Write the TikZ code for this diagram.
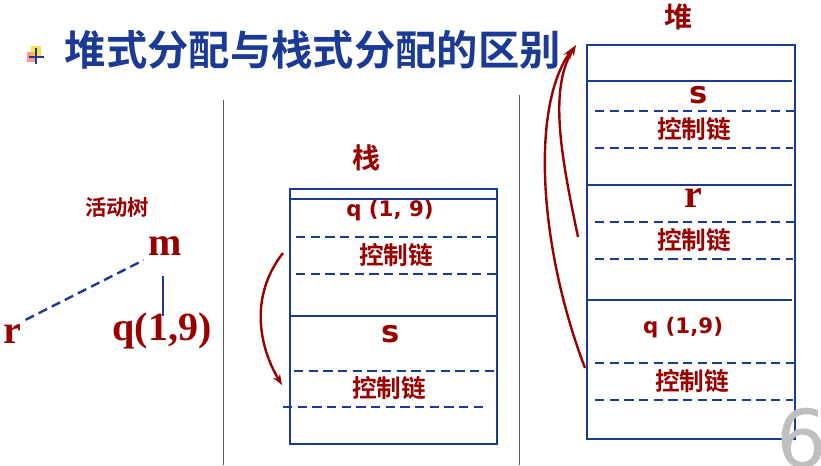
\documentclass[tikz,border=0pt]{standalone}
\usepackage{fontspec}
\usetikzlibrary{arrows.meta}
\setmainfont{Liberation Serif}
\setsansfont{DejaVu Sans}
\newfontfamily\cjk{Noto Sans CJK SC}[BoldFont={* Bold}]
\definecolor{darkred}{HTML}{990000}
\definecolor{navy}{HTML}{1A3A96}
\tikzset{
  frameline/.style={navy, line width=2pt},
  dashline/.style={navy, line width=1.8pt, dash pattern=on 7pt off 4pt},
  cjklabel/.style={darkred, font=\cjk\bfseries\fontsize{18.5}{18.5}\selectfont},
  latlabel/.style={darkred, font=\bfseries\fontsize{30}{30}\selectfont},
  callarrow/.style={darkred, line width=1.8pt, -{Stealth[length=8pt]}},
}
\begin{document}
\begin{tikzpicture}[x=0.75pt,y=-0.75pt]
  \useasboundingbox (0,0) rectangle (821,465);

  % title
  \fill[red!60, opacity=0.7] (27,52) rectangle (37,62);
  \fill[yellow!70!orange, opacity=0.7] (31,46) rectangle (41,56);
  \draw[navy, line width=1pt] (29,57) -- (44,57) (36,48) -- (36,64);
  \node[navy, anchor=west, font=\cjk\bfseries\fontsize{31}{31}\selectfont] (title) at (60,50) {堆式分配与栈式分配的区别};

  % dividers
  \draw[gray!70!black] (223,100) -- (223,465);
  \draw[gray!70!black] (519,95) -- (519,465);

  % activation tree
  \node[cjklabel, font=\cjk\bfseries\fontsize{16}{16}\selectfont] (treelabel) at (117,207) {活动树};
  \node[latlabel] (m) at (165,246) {m};
  \node[latlabel] (r) at (12,334) {r};
  \node[latlabel] (q) at (162,331) {q(1,9)};
  \coordinate (mbot) at (163,276);
  \coordinate (qtop) at (163,316);
  \draw[dashline] (r.north east) -- (m.south west);
  \draw[navy, line width=1.8pt] (mbot) -- (qtop);

  % stack
  \node[cjklabel, font=\cjk\bfseries\fontsize{21}{21}\selectfont] (stacklabel) at (366,158) {栈};
  \draw[frameline] (290,189) rectangle (497,444);
  \draw[frameline] (290,199) -- (497,199);
  \draw[frameline] (290,316) -- (497,316);
  \draw[dashline] (296,237) -- (501,237);
  \draw[dashline] (296,274) -- (497,274);
  \draw[dashline] (294,371) -- (497,371);
  \draw[dashline] (283,407) -- (487,407);
  \node[darkred, font=\sffamily\bfseries\fontsize{16}{16}\selectfont] (sq) at (390,211) {q (1, 9)};
  \node[cjklabel] (sc1) at (396,255) {控制链};
  \node[darkred, font=\sffamily\bfseries\fontsize{23}{23}\selectfont] (ss) at (391,334) {s};
  \node[cjklabel] (sc2) at (389,388) {控制链};
  \coordinate (sa) at (283,253);
  \coordinate (sb) at (282,385);
  \draw[callarrow] (sa) .. controls (250,295) and (258,345) .. (sb);

  % heap
  \node[cjklabel, font=\cjk\bfseries\fontsize{21}{21}\selectfont] (heaplabel) at (678,17) {堆};
  \draw[frameline] (587,45) rectangle (795,439);
  \foreach \y in {81,185,300}
    \draw[frameline] (587,\y) -- (792,\y);
  \foreach \y in {111,222,363}
    \draw[dashline] (595,\y) -- (799,\y);
  \foreach \y in {148,259,400}
    \draw[dashline] (595,\y) -- (793,\y);
  \node[darkred, font=\sffamily\bfseries\fontsize{23}{23}\selectfont] (hs) at (699,95) {s};
  \node[cjklabel] (hc1) at (694,129) {控制链};
  \node[darkred, font=\bfseries\fontsize{30}{30}\selectfont] (hr) at (693,198) {r};
  \node[cjklabel] (hc2) at (694,240) {控制链};
  \node[darkred, font=\sffamily\bfseries\fontsize{16}{16}\selectfont] (hq) at (683,328) {q (1,9)};
  \node[cjklabel] (hc3) at (692,381) {控制链};
  \coordinate (ha) at (578,237);
  \coordinate (hb) at (585,368);
  \coordinate (htop) at (576,45);
  \coordinate (htop2) at (573,48);
  \draw[callarrow] (ha) .. controls (562,160) and (548,90) .. (htop);
  \draw[callarrow] (hb) .. controls (540,250) and (530,110) .. (htop2);

  % page number
  \node[gray!50, font=\sffamily\fontsize{60}{60}\selectfont, anchor=west] (page) at (772,438) {6};
\end{tikzpicture}
\end{document}
